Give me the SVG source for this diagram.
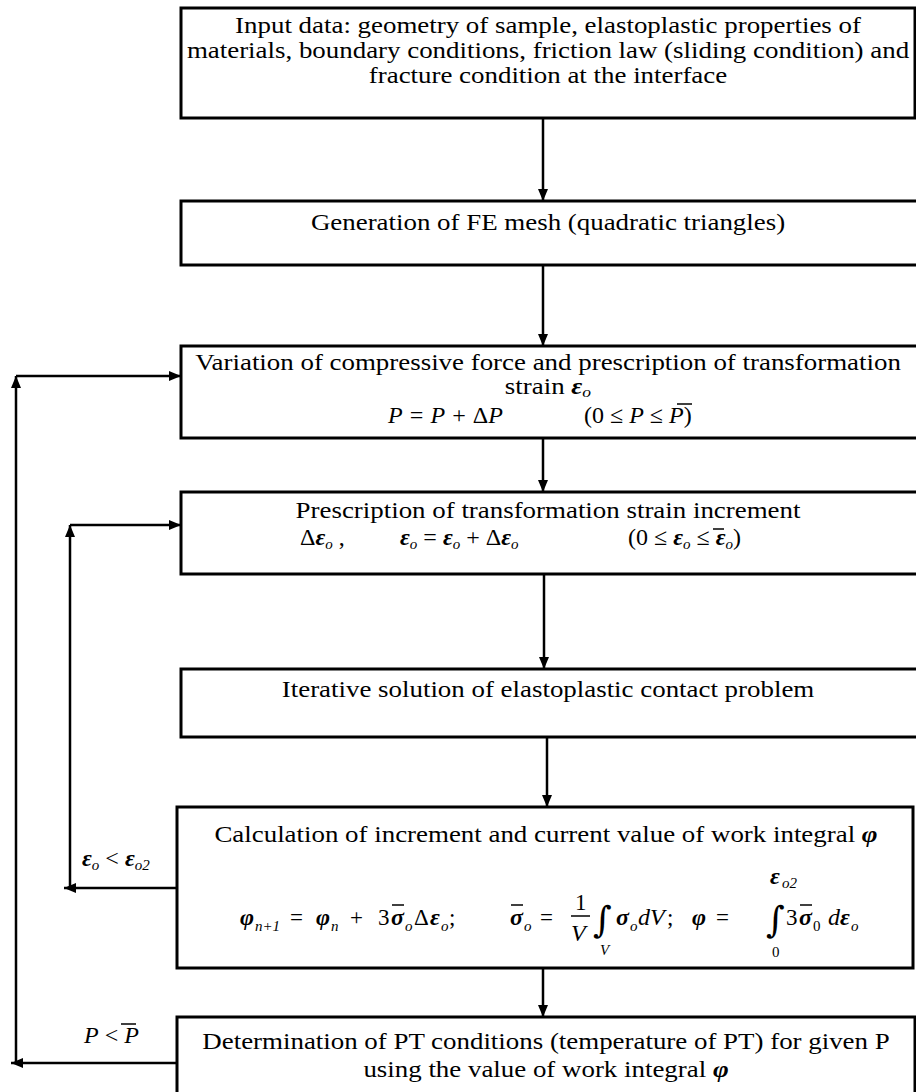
<svg xmlns="http://www.w3.org/2000/svg" width="916" height="1092" viewBox="0 0 916 1092">
<defs>
<marker id="ah" viewBox="0 0 12 10" refX="12" refY="5" markerWidth="12" markerHeight="10" markerUnits="userSpaceOnUse" orient="auto"><path d="M0,0 L12,5 L0,10 z" fill="#000"/></marker>
<style>
.box{fill:#fff;stroke:#000;stroke-width:3}
.c{fill:none;stroke:#000;stroke-width:2.5}
.t{font-family:"Liberation Serif","Times New Roman",serif;font-size:23px;fill:#000}
.m{font-family:"Liberation Serif","Times New Roman",serif;font-size:24px;fill:#000;font-style:italic}
.i{font-family:"DejaVu Serif",serif;font-size:36px;fill:#000}
.u{font-style:normal}
.g{font-weight:bold}
.s{font-size:15px}
.ol{stroke:#000;stroke-width:1.5}
</style>
</defs>
<rect width="916" height="1092" fill="#fff"/>

<g id="n1">
<rect class="box" x="181" y="8" width="734" height="110"/>
<text class="t" text-anchor="middle" transform="translate(548,33) scale(1.17,1)">Input data: geometry of sample, elastoplastic properties of</text>
<text class="t" text-anchor="middle" transform="translate(548,58) scale(1.17,1)">materials, boundary conditions, friction law (sliding condition) and</text>
<text class="t" text-anchor="middle" transform="translate(548,83) scale(1.17,1)">fracture condition at the interface</text>
</g>

<g id="n2">
<rect class="box" x="181" y="201" width="740" height="64"/>
<text class="t" text-anchor="middle" transform="translate(548,230) scale(1.17,1)">Generation of FE mesh (quadratic triangles)</text>
</g>

<g id="n3">
<rect class="box" x="181" y="346" width="740" height="92"/>
<text class="t" text-anchor="middle" transform="translate(548,370) scale(1.17,1)">Variation of compressive force and prescription of transformation</text>
<text class="t" text-anchor="middle" transform="translate(548,394) scale(1.17,1)">strain <tspan class="g" font-style="italic">ε</tspan><tspan font-style="italic" class="s" dy="3">o</tspan></text>
<text class="m" x="388" y="423">P = P + <tspan class="u">Δ</tspan>P</text>
<text class="m" x="584" y="423"><tspan class="u">(0 ≤ </tspan>P<tspan class="u"> ≤ </tspan>P<tspan class="u">)</tspan></text>
<line class="ol" x1="677" y1="404" x2="692" y2="404"/>
</g>

<g id="n4">
<rect class="box" x="181" y="492" width="740" height="82"/>
<text class="t" text-anchor="middle" transform="translate(548,518) scale(1.17,1)">Prescription of transformation strain increment</text>
<text class="m" x="300" y="545"><tspan class="u">Δ</tspan><tspan class="g">ε</tspan><tspan class="s" dy="4">o</tspan><tspan dy="-4" class="u"> ,</tspan></text>
<text class="m" x="400" y="545"><tspan class="g">ε</tspan><tspan class="s" dy="4">o</tspan><tspan dy="-4" class="u"> = </tspan><tspan class="g">ε</tspan><tspan class="s" dy="4">o</tspan><tspan dy="-4" class="u"> + Δ</tspan><tspan class="g">ε</tspan><tspan class="s" dy="4">o</tspan></text>
<text class="m" x="628" y="545"><tspan class="u">(0 ≤ </tspan><tspan class="g">ε</tspan><tspan class="s" dy="4">o</tspan><tspan dy="-4" class="u"> ≤ </tspan><tspan class="g">ε</tspan><tspan class="s" dy="4">o</tspan><tspan dy="-4" class="u">)</tspan></text>
<line class="ol" x1="713" y1="529" x2="724" y2="529"/>
</g>

<g id="n5">
<rect class="box" x="181" y="669" width="740" height="68"/>
<text class="t" text-anchor="middle" transform="translate(548,697) scale(1.17,1)">Iterative solution of elastoplastic contact problem</text>
</g>

<g id="n6">
<rect class="box" x="177" y="807" width="736" height="161"/>
<text class="t" text-anchor="middle" transform="translate(546,842) scale(1.17,1)">Calculation of increment and current value of work integral <tspan class="g" font-style="italic">φ</tspan></text>
<text class="m g" x="240" y="925">φ</text>
<text class="m s" x="255" y="931">n+1</text>
<text class="t" x="290" y="925">=</text>
<text class="m g" x="316" y="925">φ</text>
<text class="m s" x="331" y="931">n</text>
<text class="t" x="350" y="925">+</text>
<text class="t" x="378" y="925">3</text>
<text class="m g" x="391" y="925">σ</text>
<line class="ol" x1="392" y1="905" x2="404" y2="905"/>
<text class="m s" x="405" y="931">o</text>
<text class="t" x="414" y="925">Δ</text>
<text class="m g" x="430" y="925">ε</text>
<text class="m s" x="441" y="931">o</text>
<text class="t" x="449" y="925">;</text>
<text class="m g" x="510" y="925">σ</text>
<line class="ol" x1="511" y1="905" x2="523" y2="905"/>
<text class="m s" x="524" y="931">o</text>
<text class="t" x="540" y="925">=</text>
<text class="t" x="575" y="910">1</text>
<line class="ol" x1="571" y1="916" x2="590" y2="916"/>
<text class="m" x="571" y="941">V</text>
<text class="i" x="593" y="932">∫</text>
<text class="m s" x="600" y="955">V</text>
<text class="m g" x="616" y="925">σ</text>
<text class="m s" x="630" y="931">o</text>
<text class="m" x="638" y="925">dV</text>
<text class="t" x="667" y="925">;</text>
<text class="m g" x="692" y="925">φ</text>
<text class="t" x="716" y="925">=</text>
<text class="i" x="766" y="932">∫</text>
<text class="m g" x="770" y="884">ε</text>
<text class="m s" x="782" y="888">o2</text>
<text class="t s" x="772" y="957">0</text>
<text class="t" x="786" y="925">3</text>
<text class="m g" x="799" y="925">σ</text>
<line class="ol" x1="800" y1="905" x2="812" y2="905"/>
<text class="t s" x="813" y="931">0</text>
<text class="m" x="828" y="925">d</text>
<text class="m g" x="840" y="925">ε</text>
<text class="m s" x="851" y="931">o</text>
</g>

<g id="n7">
<rect class="box" x="177" y="1017" width="738" height="100"/>
<text class="t" text-anchor="middle" transform="translate(546,1049) scale(1.17,1)">Determination of PT conditions (temperature of PT) for given P</text>
<text class="t" text-anchor="middle" transform="translate(546,1077) scale(1.17,1)">using the value of work integral <tspan class="g" font-style="italic">φ</tspan></text>
</g>

<g id="labels">
<text class="m" x="82" y="866"><tspan class="g">ε</tspan><tspan class="s" dy="4">o</tspan><tspan dy="-4" class="u"> &lt; </tspan><tspan class="g">ε</tspan><tspan class="s" dy="4">o2</tspan></text>
<text class="m" x="84" y="1043">P<tspan class="u"> &lt; </tspan>P</text>
<line class="ol" x1="121" y1="1024" x2="136" y2="1024"/>
</g>

<g id="connectors">
<path class="c" d="M543,118 V201" marker-end="url(#ah)"/>
<path class="c" d="M543,265 V346" marker-end="url(#ah)"/>
<path class="c" d="M543,438 V492" marker-end="url(#ah)"/>
<path class="c" d="M544,574 V669" marker-end="url(#ah)"/>
<path class="c" d="M547,737 V807" marker-end="url(#ah)"/>
<path class="c" d="M543,968 V1017" marker-end="url(#ah)"/>
<path class="c" d="M177,888 H64" marker-end="url(#ah)"/>
<path class="c" d="M70,888 V525" marker-end="url(#ah)"/>
<path class="c" d="M70,525 H181" marker-end="url(#ah)"/>
<path class="c" d="M177,1063 H11" marker-end="url(#ah)"/>
<path class="c" d="M16,1063 V376" marker-end="url(#ah)"/>
<path class="c" d="M16,376 H181" marker-end="url(#ah)"/>
</g>
</svg>
